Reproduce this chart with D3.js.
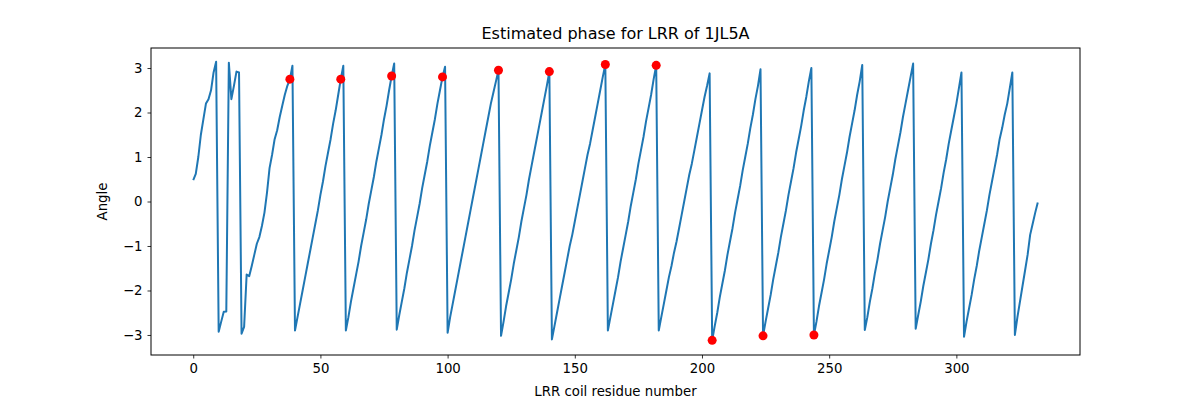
<!DOCTYPE html>
<meta charset="utf-8">
<script src="https://cdn.jsdelivr.net/npm/d3@7"></script>
<style>
  body { margin: 0; background: #fff; }
  text { font-family: "DejaVu Sans", sans-serif; }
  .tick text { font-size: 13.3px; }
</style>
<body>
<script>
// phase angle per residue, index = residue number
var angle = [
  0.48, 0.62, 1.0, 1.5, 1.85, 2.2, 2.3, 2.5, 2.9, 3.14,
  -2.93, -2.7, -2.48, -2.47, 3.12, 2.3, 2.6, 2.92, 2.9, -2.97,
  -2.82, -1.64, -1.68, -1.45, -1.2, -0.95, -0.8, -0.55, -0.25, 0.2,
  0.75, 1.05, 1.4, 1.6, 1.9, 2.15, 2.4, 2.6, 2.75, 3.05,
  -2.9, -2.6, -2.3, -2.0, -1.7, -1.4, -1.1, -0.8, -0.5, -0.2, 0.15, 0.45, 0.8, 1.1, 1.4, 1.75, 2.05, 2.4, 2.75, 3.05,
  -2.9, -2.6, -2.25, -1.95, -1.65, -1.35, -1.0, -0.7, -0.4, -0.05, 0.25, 0.55, 0.9, 1.2, 1.5, 1.85, 2.15, 2.5, 2.82, 3.1,
  -2.88, -2.55, -2.25, -1.95, -1.6, -1.3, -1.0, -0.65, -0.35, -0.05, 0.3, 0.6, 0.9, 1.25, 1.55, 1.85, 2.2, 2.5, 2.8, 3.03,
  -2.95, -2.6, -2.3, -2.0, -1.7, -1.4, -1.1, -0.8, -0.5, -0.2, 0.1, 0.4, 0.7, 1.0, 1.3, 1.6, 1.9, 2.2, 2.45, 2.7, 2.95,
  -3.02, -2.7, -2.35, -2.05, -1.75, -1.4, -1.1, -0.8, -0.45, -0.15, 0.15, 0.5, 0.8, 1.1, 1.4, 1.7, 2.0, 2.3, 2.6, 2.92,
  -3.1, -2.8, -2.5, -2.2, -1.9, -1.6, -1.3, -1.0, -0.75, -0.45, -0.15, 0.15, 0.45, 0.75, 1.05, 1.3, 1.6, 1.9, 2.2, 2.5, 2.8, 3.08,
  -2.9, -2.6, -2.3, -2.0, -1.7, -1.35, -1.05, -0.75, -0.45, -0.1, 0.2, 0.5, 0.85, 1.15, 1.45, 1.8, 2.1, 2.4, 2.75, 3.06,
  -2.9, -2.6, -2.3, -2.0, -1.7, -1.45, -1.15, -0.9, -0.6, -0.3, 0.0, 0.3, 0.6, 0.85, 1.15, 1.45, 1.75, 2.05, 2.35, 2.6, 2.88,
  -3.12, -2.8, -2.5, -2.15, -1.85, -1.55, -1.2, -0.9, -0.6, -0.25, 0.05, 0.35, 0.7, 1.0, 1.3, 1.65, 1.95, 2.3, 2.6, 2.97,
  -3.02, -2.7, -2.4, -2.1, -1.75, -1.45, -1.15, -0.8, -0.5, -0.2, 0.15, 0.45, 0.75, 1.1, 1.4, 1.7, 2.05, 2.35, 2.7, 3.0,
  -3.0, -2.7, -2.35, -2.05, -1.75, -1.4, -1.1, -0.8, -0.45, -0.15, 0.15, 0.5, 0.8, 1.1, 1.45, 1.75, 2.05, 2.4, 2.7, 3.07,
  -2.89, -2.6, -2.25, -1.95, -1.6, -1.3, -0.95, -0.65, -0.35, 0.0, 0.3, 0.6, 0.95, 1.25, 1.55, 1.9, 2.2, 2.5, 2.8, 3.1,
  -2.86, -2.55, -2.25, -1.9, -1.6, -1.3, -0.95, -0.65, -0.3, 0.0, 0.3, 0.65, 0.95, 1.3, 1.6, 1.9, 2.2, 2.55, 2.9,
  -3.04, -2.7, -2.4, -2.1, -1.75, -1.45, -1.1, -0.8, -0.5, -0.2, 0.15, 0.45, 0.75, 1.05, 1.4, 1.65, 1.95, 2.2, 2.55, 2.9,
  -3.0, -2.6, -2.25, -1.9, -1.55, -1.2, -0.75, -0.5, -0.25, -0.02
];

// red markers
var markerX = [38, 58, 78, 98, 120, 140, 162, 182, 204, 224, 244];
var markerY = [2.75, 2.75, 2.82, 2.80, 2.95, 2.92, 3.08, 3.06, -3.12, -3.02, -3.0];

var xTicks = [0, 50, 100, 150, 200, 250, 300];
var yTicks = [-3, -2, -1, 0, 1, 2, 3];

var margin = {top: 48, right: 120, bottom: 45, left: 151},
    width = 1200 - margin.left - margin.right,
    height = 400 - margin.top - margin.bottom;

var svg = d3.select("body").append("svg")
    .attr("width", 1200)
    .attr("height", 400);

var g = svg.append("g")
    .attr("transform", `translate(${margin.left},${margin.top})`);

var n = angle.length - 1;
var xScale = d3.scaleLinear()
    .domain([-0.05 * n, n * 1.05])
    .range([0, width]);

var yScale = d3.scaleLinear()
    .domain([-3.45, 3.45])
    .range([height, 0]);

var fmt = d => String(d).replace("-", "\u2212");

g.append("g")
    .attr("transform", `translate(0,${height})`)
    .call(d3.axisBottom(xScale).tickValues(xTicks).tickSize(3.5).tickPadding(5).tickFormat(fmt));

g.append("g")
    .call(d3.axisLeft(yScale).tickValues(yTicks).tickSize(3.5).tickPadding(5).tickFormat(fmt));

g.selectAll(".domain").remove();
g.selectAll(".tick line").attr("stroke", "#000").attr("stroke-width", 0.8);
g.selectAll(".tick text").attr("fill", "#000");

var line = d3.line()
    .x((d, i) => xScale(i))
    .y(d => yScale(d));

g.append("path")
    .datum(angle)
    .attr("d", line)
    .style("fill", "none")
    .style("stroke", "#1f77b4")
    .style("stroke-width", 2)
    .style("stroke-linejoin", "round");

g.selectAll(".dot")
    .data(markerX)
    .enter()
    .append("circle")
    .attr("cx", d => xScale(d))
    .attr("cy", (d, i) => yScale(markerY[i]))
    .attr("r", 4.5)
    .style("fill", "red");

// frame
g.append("rect")
    .attr("width", width)
    .attr("height", height)
    .style("fill", "none")
    .style("stroke", "#000")
    .style("stroke-width", 1);

g.append("text")
    .attr("x", width / 2)
    .attr("y", -9)
    .style("text-anchor", "middle")
    .style("font-size", "16px")
    .text("Estimated phase for LRR of 1JL5A");

g.append("text")
    .attr("x", width / 2)
    .attr("y", height + 41)
    .style("text-anchor", "middle")
    .style("font-size", "13.3px")
    .text("LRR coil residue number");

g.append("text")
    .attr("transform", "rotate(-90)")
    .attr("x", -height / 2)
    .attr("y", -44)
    .style("text-anchor", "middle")
    .style("font-size", "13.3px")
    .text("Angle");
</script>
</body>
</html>
